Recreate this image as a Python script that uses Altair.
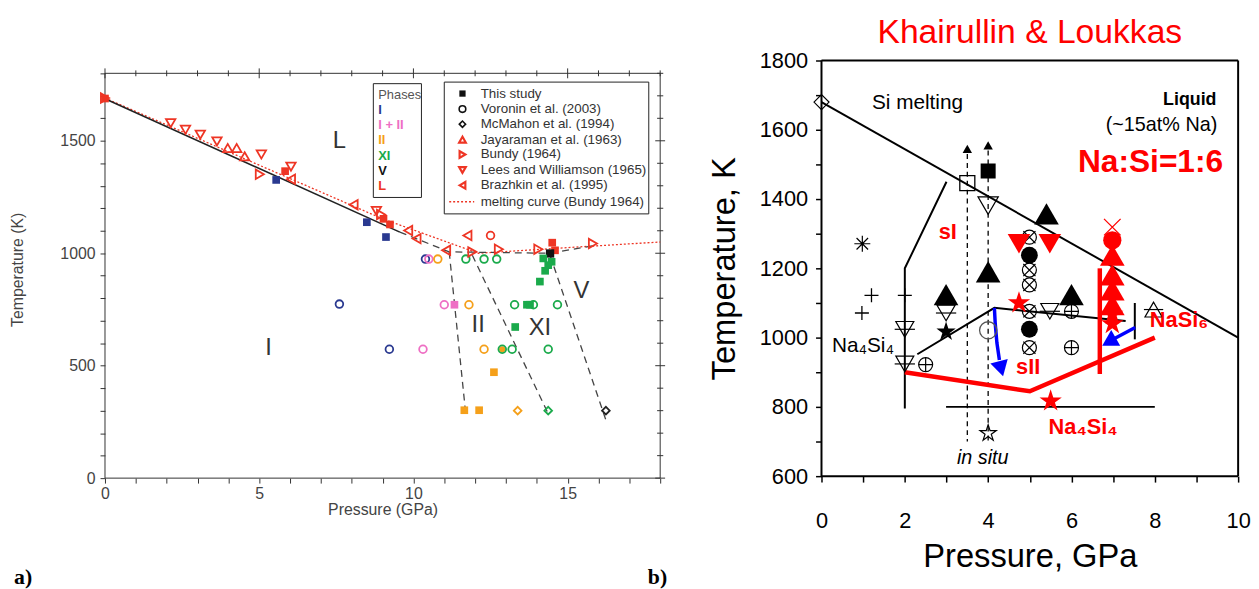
import altair as alt
import pandas as pd

FONT = "Liberation Sans"
RED_L = "#ee3524"
BLUE_L = "#2a3990"
PINK_L = "#ee6fc4"
ORANGE_L = "#f5a01a"
GREEN_L = "#1aaa4b"
RED_R = "#ff0000"
BLUE_R = "#0000ff"

PLUS = "M-1,0L1,0M0,-1L0,1"
XSHAPE = "M-1,-1L1,1M-1,1L1,-1"
ASTER = "M-1,0L1,0M0,-1L0,1M-0.72,-0.72L0.72,0.72M-0.72,0.72L0.72,-0.72"
STAR = ("M0,-1L0.2245,-0.309L0.951,-0.309L0.363,0.118L0.588,0.809L0,0.382"
        "L-0.588,0.809L-0.363,0.118L-0.951,-0.309L-0.2245,-0.309Z")

# ================= panel a) data =================
a_blue_sq_P = [5.55, 8.49, 9.11]
a_blue_sq_T = [1326, 1138, 1072]
a_red_sq_P = [0.0, 5.84, 9.03, 9.24, 14.50, 14.59]
a_red_sq_T = [1688, 1365, 1153, 1128, 1047, 1013]
a_black_sq_P = [14.43]
a_black_sq_T = [999]
a_green_sq_P = [14.21, 14.48, 14.37, 14.27, 14.10, 13.68, 13.78, 13.30]
a_green_sq_T = [977, 962, 947, 922, 874, 771, 771, 672]
a_pink_sq_P = [11.33]
a_pink_sq_T = [771]
a_orange_sq_P = [12.61, 11.65, 12.13]
a_orange_sq_T = [471, 302, 302]

a_vor_blue_P = [10.39, 7.60, 9.22]
a_vor_blue_T = [974, 774, 573]
a_vor_pink_P = [10.50, 11.00, 10.31]
a_vor_pink_T = [974, 771, 573]
a_vor_orange_P = [10.79, 11.80, 12.29]
a_vor_orange_T = [974, 771, 573]
a_vor_green_P = [11.70, 12.29, 12.70, 13.28, 13.89, 14.67, 12.88, 13.20, 14.37]
a_vor_green_T = [974, 974, 974, 771, 771, 771, 573, 573, 573]
a_vor_red_P = [12.50]
a_vor_red_T = [1079]
a_orange_dot_P = [12.88]
a_orange_dot_T = [573]

a_mcm_P = [13.38, 14.37, 16.24]
a_mcm_T = [300, 300, 300]

a_jay_P = [3.98, 4.27, 4.53]
a_jay_T = [1468, 1468, 1431]
a_bundy_P = [0.0, 5.02, 8.95, 11.91, 12.77, 14.05, 15.82]
a_bundy_T = [1690, 1351, 1172, 1006, 1018, 1018, 1043]
a_lees_P = [2.13, 2.61, 3.09, 3.63, 5.07, 6.03, 8.80]
a_lees_T = [1578, 1549, 1527, 1497, 1439, 1385, 1188]
a_braz_P = [6.03, 8.06, 9.83, 10.10, 11.06, 11.75]
a_braz_T = [1329, 1216, 1101, 1065, 1013, 1079]

a_melt_P = [0.0, 9.56]
a_melt_T = [1687, 1094]
a_melt_dash_P = [9.56, 11.16, 14.43, 15.90]
a_melt_dash_T = [1094, 1006, 1000, 1035]
a_b1_P = [11.16, 11.70]
a_b1_T = [1006, 280]
a_b2_P = [11.91, 14.37]
a_b2_T = [991, 287]
a_b3_P = [14.43, 16.24]
a_b3_T = [991, 258]
a_bundy_curve_P = [0.0, 9.0, 12.1, 15.0, 18.0]
a_bundy_curve_T = [1690, 1153, 1000, 1025, 1050]

a_phase_labels = ["L", "I", "II", "XI", "V"]
a_phase_P = [7.6, 5.3, 12.1, 14.1, 15.45]
a_phase_T = [1500, 580, 682, 669, 831]

a_phase_names = ["I", "I + II", "II", "XI", "V", "L"]
a_phase_colors = [BLUE_L, PINK_L, ORANGE_L, GREEN_L, "#111111", RED_L]
a_phase_rows = [1637, 1571, 1505, 1431, 1365, 1299]

a_src_names = ["This study", "Voronin et al. (2003)", "McMahon et al. (1994)",
               "Jayaraman et al. (1963)", "Bundy (1964)", "Lees and Williamson (1965)",
               "Brazhkin et al. (1995)", "melting curve (Bundy 1964)"]
a_src_rows = [1710, 1641, 1574, 1505, 1439, 1370, 1302, 1229]

a_ticks_x = list(range(0, 19))
a_ticks_y = list(range(0, 1801, 100))

# ================= panel b) data =================
b_melt_P = [0.0, 10.0]
b_melt_T = [1680, 1000]
b_sI_P = [3.0, 2.0, 2.0]
b_sI_T = [1450, 1200, 795]
b_low_P = [2.3, 4.15, 7.3]
b_low_T = [952, 1086, 1048]
b_vert_P = [7.52, 7.52]
b_vert_T = [1100, 995]
b_hor_P = [2.99, 8.0]
b_hor_T = [800, 800]
b_dash1_P = [3.5, 3.5]
b_dash1_T = [1530, 700]
b_dash2_P = [4.0, 4.0]
b_dash2_T = [1540, 700]
b_red_P = [2.0, 5.0, 8.0]
b_red_T = [900, 845, 1000]
b_redv_P = [6.68, 6.68]
b_redv_T = [1200, 895]
b_blue1_P = [4.15, 4.17, 4.21, 4.27]
b_blue1_T = [1086, 1040, 985, 935]
b_blue2_P = [7.53, 7.0]
b_blue2_T = [1029, 995]

b_tri_P = [2.99, 4.0, 5.4, 6.0]
b_tri_T = [1124, 1190, 1357, 1124]
b_arrow_P = [3.5, 4.0]
b_arrow_T = [1545, 1555]
b_fsq_P = [4.0]
b_fsq_T = [1481]
b_hsq_P = [3.5]
b_hsq_T = [1446]
b_hdn_P = [4.0]
b_hdn_T = [1381]
b_bardn_P = [2.0, 2.0, 2.99, 5.48]
b_bardn_T = [1024, 924, 1071, 1076]
b_oplus_P = [2.5, 6.0, 6.0]
b_oplus_T = [922, 1076, 971]
b_otimes_P = [4.99, 4.99, 4.99, 4.99, 4.99]
b_otimes_T = [1290, 1195, 1152, 1076, 971]
b_fcirc_P = [4.99, 4.99]
b_fcirc_T = [1238, 1024]
b_fstar_P = [2.99]
b_fstar_T = [1017]
b_hstar_P = [4.0]
b_hstar_T = [724]
b_hcirc_P = [4.0]
b_hcirc_T = [1021]
b_plus_P = [1.2, 0.97, 2.0]
b_plus_T = [1122, 1071, 1122]
b_aster_P = [0.98]
b_aster_T = [1271]
b_diam_P = [0.0]
b_diam_T = [1680]
b_barup_P = [7.97]
b_barup_T = [1081]
b_rdn_P = [4.74, 5.48]
b_rdn_T = [1271, 1271]
b_rstar_P = [4.74, 5.50, 6.98, 6.98]
b_rstar_T = [1100, 817, 1067, 1040]
b_rtri_P = [6.98, 6.98, 6.98, 6.98]
b_rtri_T = [1238, 1181, 1138, 1095]
b_rcirc_P = [6.98]
b_rcirc_T = [1281]
b_rx_P = [6.98]
b_rx_T = [1319]
b_bhead1_P = [4.31]
b_bhead1_T = [910]
b_bhead2_P = [6.9]
b_bhead2_T = [988]

# ================= scales and axes =================
xL = alt.Scale(domain=[0, 18], nice=False, zero=False)
yL = alt.Scale(domain=[0, 1857], nice=False, zero=False)
xR = alt.Scale(domain=[0, 10], nice=False, zero=False)
yR = alt.Scale(domain=[600, 1800], nice=False, zero=False)

axLx = alt.Axis(values=a_ticks_x, labelExpr="datum.value % 5 === 0 ? datum.label : ''",
                title="Pressure (GPa)", domain=False, grid=False, tickSize=5, tickColor="#333333",
                labelFont=FONT, labelFontSize=16, labelColor="#444444", labelPadding=3,
                titleFont=FONT, titleFontSize=16, titleFontWeight="normal", titleColor="#444444",
                titlePadding=0, labelFlush=False)
axLy = alt.Axis(values=a_ticks_y, labelExpr="datum.value % 500 === 0 ? datum.label : ''",
                format="d", title="Temperature (K)", domain=False, grid=False, tickSize=5,
                tickColor="#333333", labelFont=FONT, labelFontSize=16, labelColor="#444444",
                labelPadding=5, titleFont=FONT, titleFontSize=16, titleFontWeight="normal",
                titleColor="#444444", titlePadding=35, labelFlush=False)
axRx = alt.Axis(values=list(range(0, 11)), labelExpr="datum.value % 2 === 0 ? datum.label : ''",
                title="Pressure, GPa", domain=False, grid=False, tickSize=6, tickWidth=1.5,
                tickColor="#000000", labelFont=FONT, labelFontSize=22, labelColor="#000000",
                labelPadding=29, titleFont=FONT, titleFontSize=33, titleFontWeight="normal",
                titleColor="#000000", titlePadding=9, labelFlush=False)
axRy = alt.Axis(values=list(range(600, 1801, 100)),
                labelExpr="datum.value % 200 === 0 ? datum.label : ''", format="d",
                title="Temperature, K", domain=False, grid=False, tickSize=6, tickWidth=1.5,
                tickColor="#000000", labelFont=FONT, labelFontSize=22, labelColor="#000000",
                labelPadding=8, titleFont=FONT, titleFontSize=33, titleFontWeight="normal",
                titleColor="#000000", titlePadding=18, labelFlush=False)

A = (xL, yL, axLx, axLy)
B = (xR, yR, axRx, axRy)


def xy(pn):
    xs, ys, ax, ay = pn
    return dict(x=alt.X("P:Q", scale=xs, axis=ax), y=alt.Y("T:Q", scale=ys, axis=ay))


def pts(P, T, pn, shape, size, color, filled=False, sw=1.2, angle=0):
    df = pd.DataFrame({"P": P, "T": T})
    if filled:
        m = alt.Chart(df).mark_point(shape=shape, size=size, filled=True, color=color,
                                     opacity=1, strokeWidth=0, angle=angle)
    else:
        m = alt.Chart(df).mark_point(shape=shape, size=size, filled=False, color=color,
                                     opacity=1, strokeWidth=sw, angle=angle)
    return m.encode(**xy(pn))


def line(P, T, pn, color, width, dash=None):
    df = pd.DataFrame({"P": P, "T": T, "i": list(range(len(P)))})
    kw = dict(color=color, strokeWidth=width)
    if dash:
        kw["strokeDash"] = dash
    return alt.Chart(df).mark_line(**kw).encode(order="i:O", **xy(pn))


def txt(P, T, text, pn, size, color="#000000", weight="normal", style="normal",
        align="left", font=FONT, baseline="middle"):
    df = pd.DataFrame({"P": [P], "T": [T], "s": [text]})
    return alt.Chart(df).mark_text(fontSize=size, color=color, fontWeight=weight,
                                   fontStyle=style, align=align, font=font,
                                   baseline=baseline).encode(text="s:N", **xy(pn))


def segs(P1, T1, P2, T2, pn, color, width):
    df = pd.DataFrame({"P": P1, "T": T1, "P2": P2, "T2": T2})
    return alt.Chart(df).mark_rule(color=color, strokeWidth=width).encode(
        x2="P2:Q", y2="T2:Q", **xy(pn))


# ================= panel a) =================
frameA = segs([0, 18, 18, 0], [0, 0, 1800, 1800], [18, 18, 0, 0], [0, 1800, 1800, 0],
              A, "#333333", 1)
topTicksA = segs(a_ticks_x, [1800 - (22 if v % 5 == 0 else 13) for v in a_ticks_x],
                 a_ticks_x, [1800 + (22 if v % 5 == 0 else 13) for v in a_ticks_x],
                 A, "#333333", 1)
rightTicksA = segs([18 - (0.16 if v % 500 == 0 else 0.1) for v in a_ticks_y], a_ticks_y,
                   [18 + (0.16 if v % 500 == 0 else 0.1) for v in a_ticks_y], a_ticks_y,
                   A, "#333333", 1)

layersA = [frameA, topTicksA, rightTicksA,
           line(a_bundy_curve_P, a_bundy_curve_T, A, RED_L, 1.3, [2, 2]),
           line(a_melt_P, a_melt_T, A, "#222222", 1.6),
           line(a_melt_dash_P, a_melt_dash_T, A, "#444444", 1.3, [7, 5]),
           line(a_b1_P, a_b1_T, A, "#444444", 1.3, [7, 5]),
           line(a_b2_P, a_b2_T, A, "#444444", 1.3, [7, 5]),
           line(a_b3_P, a_b3_T, A, "#444444", 1.3, [7, 5]),
           pts(a_blue_sq_P, a_blue_sq_T, A, "square", 60, BLUE_L, True),
           pts(a_red_sq_P, a_red_sq_T, A, "square", 60, RED_L, True),
           pts(a_black_sq_P, a_black_sq_T, A, "square", 70, "#111111", True),
           pts(a_green_sq_P, a_green_sq_T, A, "square", 60, GREEN_L, True),
           pts(a_pink_sq_P, a_pink_sq_T, A, "square", 60, PINK_L, True),
           pts(a_orange_sq_P, a_orange_sq_T, A, "square", 60, ORANGE_L, True),
           pts(a_orange_dot_P, a_orange_dot_T, A, "circle", 40, ORANGE_L, True),
           pts(a_vor_blue_P, a_vor_blue_T, A, "circle", 60, BLUE_L, False, 1.8),
           pts(a_vor_pink_P, a_vor_pink_T, A, "circle", 60, PINK_L, False, 1.8),
           pts(a_vor_orange_P, a_vor_orange_T, A, "circle", 60, ORANGE_L, False, 1.8),
           pts(a_vor_green_P, a_vor_green_T, A, "circle", 60, GREEN_L, False, 1.8),
           pts(a_vor_red_P, a_vor_red_T, A, "circle", 60, RED_L, False, 1.8),
           pts(a_mcm_P[:1], a_mcm_T[:1], A, "diamond", 60, ORANGE_L, False, 1.8),
           pts(a_mcm_P[1:2], a_mcm_T[1:2], A, "diamond", 60, GREEN_L, False, 1.8),
           pts(a_mcm_P[2:], a_mcm_T[2:], A, "diamond", 60, "#222222", False, 1.8),
           pts(a_jay_P, a_jay_T, A, "triangle-up", 90, RED_L, False, 1.8),
           pts(a_bundy_P, a_bundy_T, A, "triangle-right", 90, RED_L, False, 1.8),
           pts(a_lees_P, a_lees_T, A, "triangle-down", 90, RED_L, False, 1.8),
           pts(a_braz_P, a_braz_T, A, "triangle-left", 90, RED_L, False, 1.8)]

for lab, p, t in zip(a_phase_labels, a_phase_P, a_phase_T):
    layersA.append(txt(p, t, lab, A, 24, "#333333", align="center"))

# legend boxes (panel a)
boxes = pd.DataFrame({"P": [8.70, 11.0], "P2": [10.26, 17.63], "T": [1248, 1175], "T2": [1754, 1761]})
layersA.append(alt.Chart(boxes).mark_rect(fill="white", stroke="#222222", strokeWidth=1).encode(
    x2="P2:Q", y2="T2:Q", **xy(A)))
layersA.append(txt(8.86, 1703, "Phases", A, 13, "#555555"))
for name, col, t in zip(a_phase_names, a_phase_colors, a_phase_rows):
    layersA.append(txt(8.86, t, name, A, 13, col, weight="bold"))
for name, t in zip(a_src_names, a_src_rows):
    layersA.append(txt(12.18, t, name, A, 13.5, "#333333"))
layersA += [pts([11.59], [a_src_rows[0]], A, "square", 40, "#111111", True),
            pts([11.59], [a_src_rows[1]], A, "circle", 45, "#111111", False, 1.6),
            pts([11.59], [a_src_rows[2]], A, "diamond", 40, "#111111", False, 1.6),
            pts([11.59], [a_src_rows[3]], A, "triangle-up", 45, RED_L, False, 2.2),
            pts([11.59], [a_src_rows[4]], A, "triangle-right", 45, RED_L, False, 2.2),
            pts([11.59], [a_src_rows[5]], A, "triangle-down", 45, RED_L, False, 2.2),
            pts([11.59], [a_src_rows[6]], A, "triangle-left", 45, RED_L, False, 2.2),
            line([11.16, 11.97], [a_src_rows[7], a_src_rows[7]], A, RED_L, 1.3, [2, 2])]

# panel labels
layersA.append(txt(-2.95, -438, "a)", A, 22, "#000000", weight="bold", font="Liberation Serif"))
layersA.append(txt(17.6, -438, "b)", A, 22, "#000000", weight="bold", font="Liberation Serif"))

panelA = alt.layer(*layersA).properties(width=561, height=422)

# ================= panel b) =================
frameB = segs([0, 10, 10, 0], [600, 600, 1800, 1800], [10, 10, 0, 0], [600, 1800, 1800, 600],
              B, "#000000", 2)

layersB = [frameB,
           line(b_melt_P, b_melt_T, B, "#000000", 2),
           line(b_sI_P, b_sI_T, B, "#000000", 2),
           line(b_low_P, b_low_T, B, "#000000", 2),
           line(b_vert_P, b_vert_T, B, "#000000", 2),
           line(b_hor_P, b_hor_T, B, "#000000", 2),
           line(b_dash1_P, b_dash1_T, B, "#000000", 1.3, [5, 4]),
           line(b_dash2_P, b_dash2_T, B, "#000000", 1.3, [5, 4]),
           line(b_red_P, b_red_T, B, RED_R, 4.5),
           line(b_redv_P, b_redv_T, B, RED_R, 4.5),
           line(b_blue1_P, b_blue1_T, B, BLUE_R, 3.5),
           line(b_blue2_P, b_blue2_T, B, BLUE_R, 3.5),
           pts(b_bhead1_P, b_bhead1_T, B, "triangle-down", 330, BLUE_R, True, angle=345),
           pts(b_bhead2_P, b_bhead2_T, B, "triangle-down", 330, BLUE_R, True, angle=60),
           pts(b_diam_P, b_diam_T, B, "diamond", 230, "#000000", False, 1.2),
           pts(b_aster_P, b_aster_T, B, ASTER, 260, "#000000", False, 1.2),
           pts(b_plus_P, b_plus_T, B, PLUS, 200, "#000000", False, 1.3),
           pts(b_arrow_P, b_arrow_T, B, "triangle-up", 90, "#000000", True),
           pts(b_hsq_P, b_hsq_T, B, "square", 230, "#000000", False, 1.3),
           pts(b_fsq_P, b_fsq_T, B, "square", 230, "#000000", True),
           pts(b_hdn_P, b_hdn_T, B, "triangle-down", 420, "#000000", False, 1.2),
           pts(b_bardn_P, b_bardn_T, B, "triangle-down", 330, "#000000", False, 1.2),
           pts(b_bardn_P, b_bardn_T, B, "stroke", 420, "#000000", False, 1.2),
           pts(b_barup_P, b_barup_T, B, "triangle-up", 300, "#000000", False, 1.2),
           pts(b_barup_P, b_barup_T, B, "stroke", 380, "#000000", False, 1.2),
           pts(b_oplus_P, b_oplus_T, B, "circle", 200, "#000000", False, 1.2),
           pts(b_oplus_P, b_oplus_T, B, PLUS, 200, "#000000", False, 1.2),
           pts(b_otimes_P, b_otimes_T, B, "circle", 200, "#000000", False, 1.2),
           pts(b_otimes_P, b_otimes_T, B, XSHAPE, 150, "#000000", False, 1.2),
           pts(b_fcirc_P, b_fcirc_T, B, "circle", 290, "#000000", True),
           pts(b_hcirc_P, b_hcirc_T, B, "circle", 300, "#555555", False, 1.3),
           pts(b_fstar_P, b_fstar_T, B, STAR, 420, "#000000", True),
           pts(b_hstar_P, b_hstar_T, B, STAR, 300, "#000000", False, 1.2),
           pts(b_tri_P, b_tri_T, B, "triangle-up", 620, "#000000", True),
           pts(b_rdn_P, b_rdn_T, B, "triangle-down", 520, RED_R, True),
           pts(b_rtri_P, b_rtri_T, B, "triangle-up", 620, RED_R, True),
           pts(b_rcirc_P, b_rcirc_T, B, "circle", 340, RED_R, True),
           pts(b_rx_P, b_rx_T, B, XSHAPE, 280, RED_R, False, 1.3),
           pts(b_rstar_P, b_rstar_T, B, STAR, 560, RED_R, True),
           txt(1.21, 1677, "Si melting", B, 21),
           txt(3.03, 1306, "sI", B, 22, RED_R, weight="bold", align="center"),
           txt(4.96, 914, "sII", B, 22, RED_R, weight="bold", align="center"),
           txt(3.87, 653, "in situ", B, 20, style="italic", align="center"),
           txt(0.25, 976, "Na₄Si₄", B, 21),
           txt(5.45, 743, "Na₄Si₄", B, 22, RED_R, weight="bold"),
           txt(7.88, 1052, "NaSi₆", B, 22, RED_R, weight="bold"),
           txt(9.48, 1686, "Liquid", B, 18, weight="bold", align="right"),
           txt(9.5, 1614, "(~15at% Na)", B, 20, align="right"),
           txt(9.64, 1506, "Na:Si=1:6", B, 32, RED_R, weight="bold", align="right")]

panelB = alt.layer(*layersB).properties(
    width=421, height=420,
    title=alt.TitleParams("Khairullin & Loukkas", color=RED_R, fontSize=34, font=FONT,
                          fontWeight="normal", anchor="middle", offset=0, frame="group"))

chart = alt.hconcat(panelA, panelB, spacing=163, bounds="flush").properties(
    padding={"left": 0, "top": 4, "right": 0, "bottom": 0}
).configure_view(stroke="transparent")

chart.save("out.html", embed_options={"renderer": "svg", "actions": False})
